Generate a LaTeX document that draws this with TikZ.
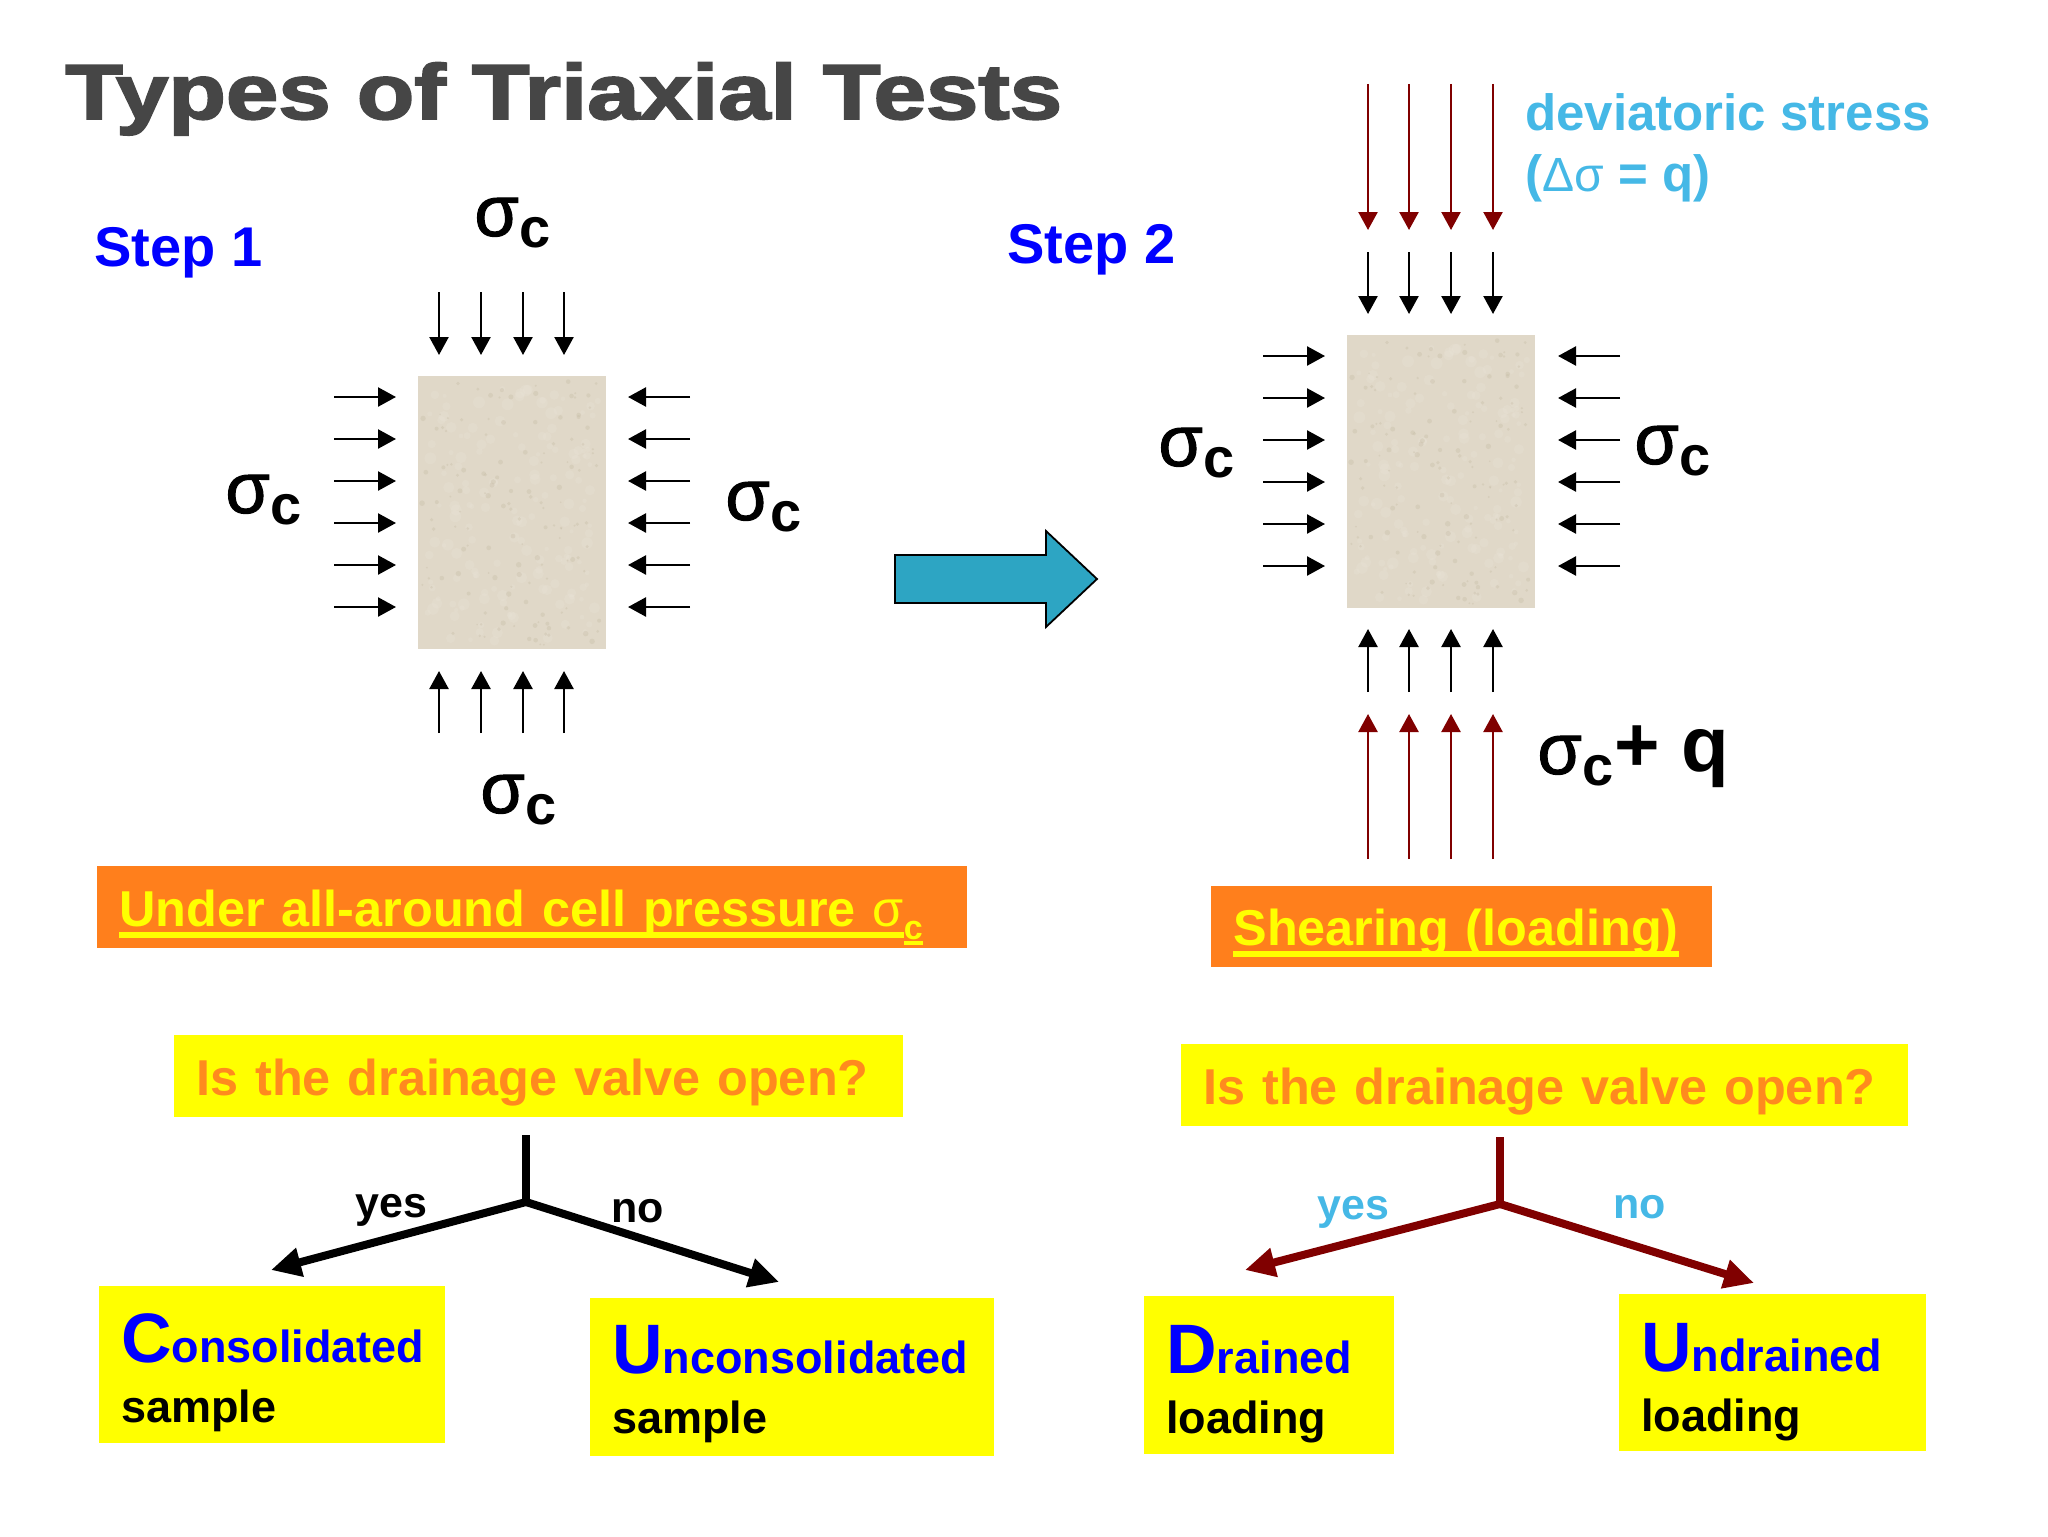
\documentclass[tikz,border=0pt]{standalone}
\usepackage{fontspec}
\setmainfont{Liberation Sans}
\newfontfamily\titlefont[BoldFeatures={FakeBold=2.2}]{Liberation Sans}
\newfontfamily\sigfont[FakeBold=1.4]{Liberation Sans}
\usetikzlibrary{arrows.meta,calc}

\definecolor{titlegray}{HTML}{464646}
\definecolor{stepblue}{HTML}{0000FF}
\definecolor{skyblue}{HTML}{45B8E6}
\definecolor{loadred}{HTML}{800000}
\definecolor{cellorange}{HTML}{FF7F1C}
\definecolor{askorange}{HTML}{FF8A1E}
\definecolor{plateyellow}{HTML}{FFFF00}
\definecolor{soilbeige}{HTML}{E0D8C8}
\definecolor{soildark}{HTML}{C9BFA9}
\definecolor{soillight}{HTML}{EBE5D9}
\definecolor{movearrow}{HTML}{2DA5C3}

\newcommand{\sigc}{\raisebox{-1.5pt}{\sigfont\mdseries\fontsize{36pt}{36pt}\selectfont σ}\hspace{0.5pt}\raisebox{-7.25pt}{c}}
\newcommand{\heavyuline}[1]{\setbox0=\hbox{#1}\rlap{\raisebox{-6pt}{\rule{\wd0}{3pt}}}\box0}
\newcommand{\lightuline}[1]{\setbox0=\hbox{#1}\rlap{\raisebox{-3pt}{\rule{\wd0}{2pt}}}\box0}
\newcommand{\bigini}[2]{\mbox{\textcolor{stepblue}{{\fontsize{35pt}{30pt}\selectfont #1}#2}}}

\tikzset{
	lbl/.style={anchor=base west, inner sep=0pt, font=\bfseries\fontsize{25.5pt}{30pt}\selectfont},
	steplbl/.style={lbl, text=stepblue, font=\bfseries\fontsize{28pt}{30pt}\selectfont},
	siglbl/.style={lbl, font=\bfseries\fontsize{28pt}{30pt}\selectfont},
	branchlbl/.style={lbl, font=\bfseries\fontsize{21.5pt}{30pt}\selectfont},
	specimen/.style={anchor=north west, fill=soilbeige, inner sep=0pt, minimum width=94pt, minimum height=136.5pt},
	plate/.style={anchor=north west, inner xsep=11pt, inner ysep=0pt, align=left, font=\bfseries\fontsize{25.2pt}{30pt}\selectfont},
	cellbox/.style={plate, fill=cellorange, text=plateyellow},
	askbox/.style={plate, fill=plateyellow, text=askorange},
	resultbox/.style={plate, fill=plateyellow, font=\bfseries\fontsize{22.5pt}{30pt}\selectfont},
	force/.style={-{Triangle[length=9pt,width=9.5pt]}, line width=1.2pt, black},
	loadforce/.style={force, loadred},
	branch/.style={line width=4pt},
	brancharrow/.style={branch, -{Triangle[length=15pt,width=14pt]}}
}

\begin{document}
\begin{tikzpicture}[x=0.5pt,y=-0.5pt]
	\useasboundingbox (0,0) rectangle (2048,1536);

	\node[lbl, text=titlegray, font=\titlefont\bfseries\fontsize{39pt}{40pt}\selectfont] (title) at (65,119) {\scalebox{1.208}[1]{Types of Triaxial Tests}};
	\node[steplbl] (stepA) at (94,266) {Step 1};
	\node[steplbl] (stepB) at (1007,263) {Step 2};

	% specimens
	\node[specimen] (specA) at (418,376) {};
	\node[specimen] (specB) at (1347,335) {};
	\pgfmathsetseed{17}
	\foreach \i in {1,...,160}{
		\pgfmathsetmacro{\dx}{rnd*172+8}
		\pgfmathsetmacro{\dy}{rnd*257+8}
		\pgfmathsetmacro{\ds}{rnd*4+2}
		\fill[soillight, opacity=.25] ($(418,376)+(\dx,\dy)$) circle (\ds);
		\fill[soillight, opacity=.25] ($(1347,335)+(\dx,\dy)$) circle (\ds);
	}
	\foreach \i in {1,...,140}{
		\pgfmathsetmacro{\dx}{rnd*180+4}
		\pgfmathsetmacro{\dy}{rnd*265+4}
		\pgfmathsetmacro{\ds}{rnd*2+0.8}
		\fill[soildark, opacity=.4] ($(418,376)+(\dx,\dy)$) circle (\ds);
		\fill[soildark, opacity=.4] ($(1347,335)+(\dx,\dy)$) circle (\ds);
	}

	% step 1 forces
	\foreach \x in {439,481,523,564}{
		\coordinate (ta\x) at (\x,292);
		\coordinate (tb\x) at (\x,355);
		\draw[force] (ta\x) -- (tb\x);
		\coordinate (ba\x) at (\x,733);
		\coordinate (bb\x) at (\x,671);
		\draw[force] (ba\x) -- (bb\x);
	}
	\foreach \y in {397,439,481,523,565,607}{
		\coordinate (la\y) at (334,\y);
		\coordinate (lb\y) at (396,\y);
		\draw[force] (la\y) -- (lb\y);
		\coordinate (ra\y) at (690,\y);
		\coordinate (rb\y) at (628,\y);
		\draw[force] (ra\y) -- (rb\y);
	}

	% step 2 forces
	\foreach \x in {1368,1409,1451,1493}{
		\coordinate (pa\x) at (\x,84);
		\coordinate (pb\x) at (\x,230);
		\draw[loadforce] (pa\x) -- (pb\x);
		\coordinate (ta\x) at (\x,252);
		\coordinate (tb\x) at (\x,314);
		\draw[force] (ta\x) -- (tb\x);
		\coordinate (ba\x) at (\x,692);
		\coordinate (bb\x) at (\x,629);
		\draw[force] (ba\x) -- (bb\x);
		\coordinate (qa\x) at (\x,859);
		\coordinate (qb\x) at (\x,714);
		\draw[loadforce] (qa\x) -- (qb\x);
	}
	\foreach \y in {356,398,440,482,524,566}{
		\coordinate (la\y) at (1263,\y);
		\coordinate (lb\y) at (1325,\y);
		\draw[force] (la\y) -- (lb\y);
		\coordinate (ra\y) at (1620,\y);
		\coordinate (rb\y) at (1558,\y);
		\draw[force] (ra\y) -- (rb\y);
	}

	\node[siglbl] (sigTopA) at (474,233) {\sigc};
	\node[siglbl] (sigLeftA) at (225,510) {\sigc};
	\node[siglbl] (sigRightA) at (725,517) {\sigc};
	\node[siglbl] (sigBotA) at (480,810) {\sigc};
	\node[siglbl] (sigLeftB) at (1158,463) {\sigc};
	\node[siglbl] (sigRightB) at (1634,461) {\sigc};
	\node[siglbl] (sigLoad) at (1537,771) {\sigc{\fontsize{39pt}{39pt}\selectfont + q}};

	\node[lbl, text=skyblue] (devA) at (1525,130) {deviatoric stress};
	\node[lbl, text=skyblue] (devB) at (1525,191) {({\mdseries\fontsize{24pt}{30pt}\selectfont Δσ} = q)};

	\draw[fill=movearrow, line width=0.9pt] (895,555) -- (1046,555) -- (1046,531) -- (1097,579)
		-- (1046,627) -- (1046,603) -- (895,603) -- cycle;

	% boxes
	\node[cellbox, text width=413pt, text height=30pt, text depth=11pt] (cellA) at (97,866)
		{\heavyuline{Under all-around cell pressure {\mdseries σ}}\raisebox{-6.5pt}{\lightuline{\fontsize{17pt}{20pt}\selectfont c}}};
	\node[cellbox, text width=228.5pt, text height=29.5pt, text depth=11pt] (cellB) at (1211,886)
		{\heavyuline{Shearing (loading)}};
	\node[askbox, text width=342.5pt, text height=30pt, text depth=11pt] (askA) at (174,1035)
		{Is the drainage valve open?};
	\node[askbox, text width=341.5pt, text height=30.25pt, text depth=10.75pt] (askB) at (1181,1044)
		{Is the drainage valve open?};

	\node[resultbox, text width=151pt, text height=38pt, text depth=40.5pt] (consBox) at (99,1286)
		{\bigini{C}{onsolidated}\\sample};
	\node[resultbox, text width=180pt, text height=37.5pt, text depth=41.5pt] (unconsBox) at (590,1298)
		{\bigini{U}{nconsolidated}\\sample};
	\node[resultbox, text width=103pt, text height=38.5pt, text depth=40.5pt] (drainBox) at (1144,1296)
		{\bigini{D}{rained}\\loading};
	\node[resultbox, text width=131.5pt, text height=38.5pt, text depth=40pt] (undrainBox) at (1619,1294)
		{\bigini{U}{ndrained}\\loading};

	% branches
	\coordinate (stemA) at (526,1135);
	\coordinate (jointA) at (526,1202);
	\coordinate (tipCons) at (271,1270);
	\coordinate (tipUncons) at (779,1282);
	\draw[branch] (stemA) -- (jointA);
	\draw[brancharrow] (jointA) -- (tipCons);
	\draw[brancharrow] (jointA) -- (tipUncons);

	\coordinate (stemB) at (1500,1137);
	\coordinate (jointB) at (1500,1204);
	\coordinate (tipDrain) at (1245,1270);
	\coordinate (tipUndrain) at (1754,1283);
	\draw[branch, loadred] (stemB) -- (jointB);
	\draw[brancharrow, loadred] (jointB) -- (tipDrain);
	\draw[brancharrow, loadred] (jointB) -- (tipUndrain);

	\node[branchlbl] (yesA) at (355,1217) {yes};
	\node[branchlbl] (noA) at (611,1222) {no};
	\node[branchlbl, text=skyblue] (yesB) at (1317,1219) {yes};
	\node[branchlbl, text=skyblue] (noB) at (1613,1218) {no};
\end{tikzpicture}
\end{document}
